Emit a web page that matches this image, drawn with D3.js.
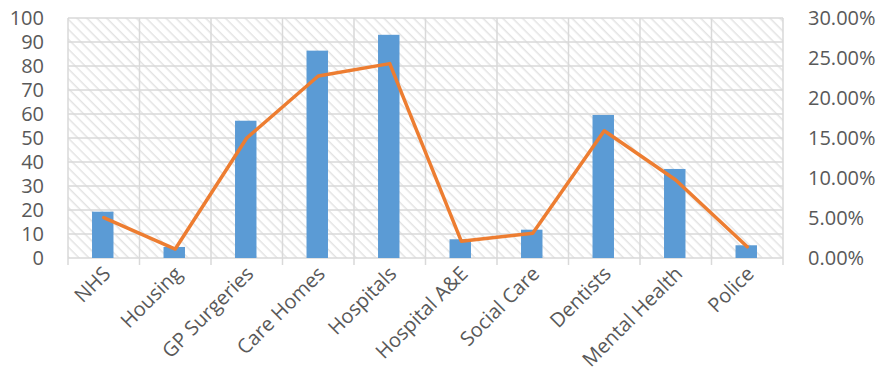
<!DOCTYPE html>
<html>
<head>
<meta charset="utf-8">
<script src="https://cdn.jsdelivr.net/npm/d3@7"></script>
<style>
  body { margin: 0; background: #fff; }
  text { font-family: "Open Sans", sans-serif; }
</style>
</head>
<body>
<div id="chart"></div>
<script>
// chart data
var categories = ["NHS", "Housing", "GP Surgeries", "Care Homes", "Hospitals",
                  "Hospital A&E", "Social Care", "Dentists", "Mental Health", "Police"];
var counts = [19.3, 4.6, 57.2, 86.4, 93.0, 7.8, 11.8, 59.6, 37.1, 5.3];
var shares = [0.0504, 0.0112, 0.150, 0.2275, 0.243, 0.021, 0.031, 0.159, 0.0975, 0.014];
var leftTicks = [0, 10, 20, 30, 40, 50, 60, 70, 80, 90, 100];
var rightTicks = [0, 0.05, 0.10, 0.15, 0.20, 0.25, 0.30];

function init(){
    var w = 882, h = 387;
    var m = {top: 18, right: 99, bottom: 129, left: 68};
    var iw = w - m.left - m.right;
    var ih = h - m.top - m.bottom;
    var grid = "#d9d9d9";
    var textCol = "#595959";

    var svg = d3.select("#chart").append("svg")
        .attr("width", w)
        .attr("height", h);

    // diagonal hatch for the plot background
    var defs = svg.append("defs");
    var pat = defs.append("pattern")
        .attr("id", "hatch")
        .attr("patternUnits", "userSpaceOnUse")
        .attr("width", 7)
        .attr("height", 7)
        .attr("patternTransform", "rotate(45)");
    pat.append("rect").attr("width", 7).attr("height", 7).attr("fill", "#fff");
    pat.append("line")
        .attr("x1", 0).attr("y1", 0).attr("x2", 7).attr("y2", 0)
        .attr("stroke", "#e3e3e3")
        .attr("stroke-width", 3);

    var g = svg.append("g").attr("transform", "translate(" + m.left + "," + m.top + ")");

    var x = d3.scaleBand().domain(categories).range([0, iw]);
    var yL = d3.scaleLinear().domain([0, 100]).range([ih, 0]);
    var yR = d3.scaleLinear().domain([0, 0.30]).range([ih, 0]);

    g.append("rect")
        .attr("width", iw)
        .attr("height", ih)
        .attr("fill", "url(#hatch)");

    // horizontal gridlines
    g.selectAll(".hgrid")
        .data(leftTicks)
        .enter()
        .append("line")
        .attr("x1", 0).attr("x2", iw)
        .attr("y1", function(d){ return yL(d); })
        .attr("y2", function(d){ return yL(d); })
        .attr("stroke", grid)
        .attr("stroke-width", 1.5);

    // vertical gridlines at category boundaries, extending down as ticks
    var bounds = d3.range(categories.length + 1);
    g.selectAll(".vgrid")
        .data(bounds)
        .enter()
        .append("line")
        .attr("x1", function(d){ return d * x.step(); })
        .attr("x2", function(d){ return d * x.step(); })
        .attr("y1", 0)
        .attr("y2", ih + 7)
        .attr("stroke", grid)
        .attr("stroke-width", 1.5);

    // bars
    var bw = x.bandwidth() * 0.3;
    g.selectAll(".bar")
        .data(counts)
        .enter()
        .append("rect")
        .attr("x", function(d, i){ return x(categories[i]) + x.bandwidth() / 2 - bw / 2 - 1; })
        .attr("y", function(d){ return yL(d); })
        .attr("width", bw)
        .attr("height", function(d){ return ih - yL(d); })
        .attr("fill", "#5b9bd5");

    // line series on secondary axis
    var line = d3.line()
        .x(function(d, i){ return x(categories[i]) + x.bandwidth() / 2; })
        .y(function(d){ return yR(d); });
    g.append("path")
        .datum(shares)
        .attr("d", line)
        .attr("fill", "none")
        .attr("stroke", "#ed7d31")
        .attr("stroke-width", 3.5)
        .attr("stroke-linejoin", "round")
        .attr("stroke-linecap", "round");

    // left axis labels
    var axL = g.append("g")
        .call(d3.axisLeft(yL).tickValues(leftTicks).tickSize(0).tickPadding(24));
    axL.select(".domain").remove();
    axL.selectAll("text")
        .attr("fill", textCol)
        .style("font-size", "20px");

    // right axis labels
    var axR = g.append("g")
        .attr("transform", "translate(" + iw + ",0)")
        .call(d3.axisRight(yR).tickValues(rightTicks).tickFormat(d3.format(".2%")).tickSize(0).tickPadding(25));
    axR.select(".domain").remove();
    axR.selectAll("text")
        .attr("fill", textCol)
        .style("font-size", "20px");

    // rotated category labels
    g.selectAll(".xlab")
        .data(categories)
        .enter()
        .append("text")
        .attr("transform", function(d){
            return "translate(" + (x(d) + x.bandwidth() / 2 + 3) + "," + (ih + 12) + ") rotate(-45)";
        })
        .attr("text-anchor", "end")
        .attr("dy", "0.35em")
        .attr("fill", textCol)
        .style("font-size", "20px")
        .text(function(d){ return d; });
}

window.onload = init;
</script>
</body>
</html>
